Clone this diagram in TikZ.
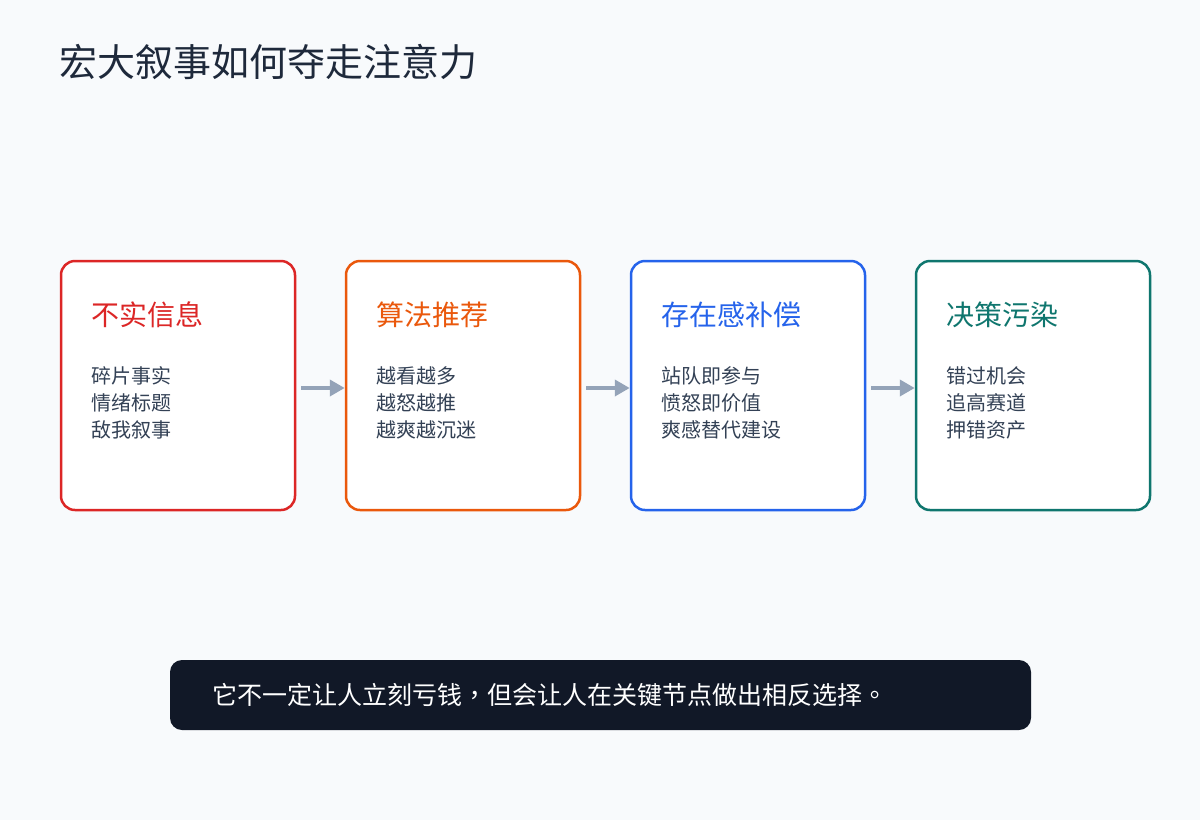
\documentclass[tikz,border=0pt]{standalone}
\usepackage{fontspec}
\setmainfont{Noto Sans CJK SC}
\newfontfamily\puncfont{Noto Sans CJK TC}
\usetikzlibrary{arrows.meta}

\definecolor{pagebg}{HTML}{F8FAFC}
\definecolor{inkdark}{HTML}{1E293B}
\definecolor{inkitem}{HTML}{334155}
\definecolor{redline}{HTML}{DC2626}
\definecolor{orangeline}{HTML}{EA580C}
\definecolor{blueline}{HTML}{2563EB}
\definecolor{greenline}{HTML}{0F766E}
\definecolor{flowgray}{HTML}{94A3B8}
\definecolor{barfill}{HTML}{111827}

\tikzset{
  stage/.style={draw=#1, line width=2.5pt, fill=white, rounded corners=14pt,
    minimum width=234pt, minimum height=249pt, inner sep=0pt},
  stagetitle/.style={text=#1, font=\fontsize{28}{28}\selectfont, anchor=west, inner sep=0pt},
  stageitems/.style={text=inkitem, font=\fontsize{20}{27}\selectfont, align=left,
    anchor=north west, inner sep=0pt},
  flow/.style={draw=flowgray, line width=4pt, shorten <=5pt,
    -{Triangle[length=15pt,width=16pt]}},
}

\begin{document}
\begin{tikzpicture}[x=1pt,y=-1pt]
  \fill[pagebg] (0,0) rectangle (1200,820);

  \node[anchor=west, inner sep=0pt, text=inkdark, font=\fontsize{38}{38}\selectfont]
    (title) at (59,62) {宏大叙事如何夺走注意力};

  %% four stages, left to right
  \node[stage=redline] (misinfo) at (178,385.5) {};
  \node[stage=orangeline] (algo) at (463,385.5) {};
  \node[stage=blueline] (presence) at (748,385.5) {};
  \node[stage=greenline] (decision) at (1033,385.5) {};

  \node[stagetitle=redline] (misinfoT) at (91,315) {不实信息};
  \node[stageitems] (misinfoL) at (91,366) {碎片事实\\情绪标题\\敌我叙事};

  \node[stagetitle=orangeline] (algoT) at (376,315) {算法推荐};
  \node[stageitems] (algoL) at (376,366) {越看越多\\越怒越推\\越爽越沉迷};

  \node[stagetitle=blueline] (presenceT) at (661,315) {存在感补偿};
  \node[stageitems] (presenceL) at (661,366) {站队即参与\\愤怒即价值\\爽感替代建设};

  \node[stagetitle=greenline] (decisionT) at (946,315) {决策污染};
  \node[stageitems] (decisionL) at (946,366) {错过机会\\追高赛道\\押错资产};

  \draw[flow] ([yshift=-2.5pt]misinfo.east) -- ([yshift=-2.5pt]algo.west);
  \draw[flow] ([yshift=-2.5pt]algo.east) -- ([yshift=-2.5pt]presence.west);
  \draw[flow] ([yshift=-2.5pt]presence.east) -- ([yshift=-2.5pt]decision.west);

  %% bottom takeaway bar
  \node[fill=barfill, rounded corners=12pt, minimum width=861pt, minimum height=70pt,
    inner sep=0pt] (bar) at (600.5,695) {};
  \node[anchor=west, inner sep=0pt, text=white, font=\fontsize{25}{25}\selectfont]
    (barT) at (212,695) {它不一定让人立刻亏钱{\puncfont ，}但会让人在关键节点做出相反选择{\puncfont 。}};
\end{tikzpicture}
\end{document}
